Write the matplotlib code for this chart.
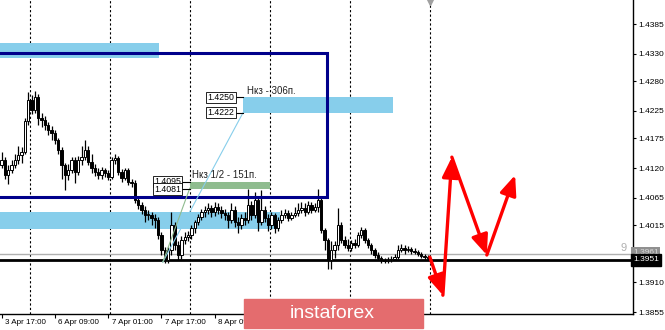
import numpy as np
import matplotlib.pyplot as plt
from matplotlib.patches import Rectangle

plt.rcParams['font.family'] = ['Liberation Sans', 'DejaVu Sans']

# H1 candles, bar 0 = 3 Apr 17:00
closes = [1.4135, 1.4107, 1.4116, 1.4126, 1.4135, 1.4144, 1.4150, 1.4207, 1.4245, 1.4227,
          1.4251, 1.4212, 1.4208, 1.4199, 1.4190, 1.4184, 1.4172, 1.4153, 1.4126, 1.4107,
          1.4116, 1.4135, 1.4113, 1.4135, 1.4140, 1.4153, 1.4131, 1.4120, 1.4113, 1.4107,
          1.4116, 1.4111, 1.4104, 1.4135, 1.4138, 1.4113, 1.4102, 1.4116, 1.4094, 1.4093,
          1.4061, 1.4052, 1.4043, 1.4034, 1.4034, 1.4028, 1.4024, 1.3997, 1.3969, 1.3951,
          1.3969, 1.4015, 1.3978, 1.3960, 1.3988, 1.3993, 1.3997, 1.4010, 1.4021, 1.4030,
          1.4039, 1.4043, 1.4047, 1.4039, 1.4048, 1.4043, 1.4037, 1.4034, 1.4024, 1.4043,
          1.4021, 1.4015, 1.4028, 1.4024, 1.4052, 1.4034, 1.4061, 1.4021, 1.4043, 1.4028,
          1.4015, 1.4034, 1.4010, 1.4024, 1.4034, 1.4037, 1.4028, 1.4034, 1.4037, 1.4043,
          1.4047, 1.4039, 1.4052, 1.4043, 1.4048, 1.4061, 1.4006, 1.3988, 1.3951, 1.3969,
          1.3978, 1.4015, 1.3988, 1.3978, 1.3973, 1.3982, 1.3978, 1.3997, 1.4006, 1.3988,
          1.3978, 1.3969, 1.3960, 1.3954, 1.3951, 1.3949, 1.3951, 1.3953, 1.3956, 1.3969,
          1.3973, 1.3969, 1.3971, 1.3967, 1.3966, 1.3962, 1.3958, 1.3956, 1.3954]
highs = [1.4150, 1.4140, 1.4125, 1.4135, 1.4145, 1.4160, 1.4158, 1.4212, 1.4260, 1.4255,
         1.4262, 1.4256, 1.4222, 1.4215, 1.4205, 1.4198, 1.4190, 1.4175, 1.4158, 1.4130,
         1.4128, 1.4140, 1.4140, 1.4142, 1.4160, 1.4172, 1.4160, 1.4145, 1.4128, 1.4120,
         1.4122, 1.4120, 1.4116, 1.4140, 1.4145, 1.4142, 1.4118, 1.4120, 1.4120, 1.4100,
         1.4098, 1.4068, 1.4058, 1.4050, 1.4042, 1.4040, 1.4035, 1.4030, 1.4002, 1.3975,
         1.3975, 1.4040, 1.4020, 1.3985, 1.3995, 1.4002, 1.4005, 1.4015, 1.4025, 1.4035,
         1.4045, 1.4050, 1.4055, 1.4052, 1.4058, 1.4055, 1.4050, 1.4045, 1.4040, 1.4055,
         1.4050, 1.4030, 1.4035, 1.4040, 1.4082, 1.4060, 1.4075, 1.4068, 1.4080, 1.4050,
         1.4035, 1.4040, 1.4038, 1.4030, 1.4042, 1.4045, 1.4042, 1.4040, 1.4048, 1.4055,
         1.4058, 1.4055, 1.4060, 1.4058, 1.4055, 1.4082, 1.4065, 1.4010, 1.3992, 1.3985,
         1.3985, 1.4047, 1.4020, 1.3995, 1.3990, 1.3988, 1.3990, 1.4002, 1.4012, 1.4010,
         1.3992, 1.3982, 1.3972, 1.3965, 1.3958, 1.3955, 1.3956, 1.3958, 1.3962, 1.3978,
         1.3980, 1.3978, 1.3976, 1.3975, 1.3972, 1.3970, 1.3966, 1.3962, 1.3960]
lows = [1.4120, 1.4100, 1.4090, 1.4110, 1.4120, 1.4128, 1.4130, 1.4145, 1.4200, 1.4220,
        1.4222, 1.4200, 1.4195, 1.4190, 1.4180, 1.4172, 1.4165, 1.4145, 1.4100, 1.4080,
        1.4098, 1.4110, 1.4092, 1.4108, 1.4125, 1.4135, 1.4125, 1.4110, 1.4105, 1.4100,
        1.4100, 1.4104, 1.4098, 1.4100, 1.4128, 1.4108, 1.4095, 1.4098, 1.4088, 1.4085,
        1.4055, 1.4045, 1.4035, 1.4020, 1.4025, 1.4015, 1.4010, 1.3990, 1.3960, 1.3945,
        1.3946, 1.3960, 1.3970, 1.3950, 1.3952, 1.3980, 1.3985, 1.3990, 1.4000, 1.4015,
        1.4025, 1.4030, 1.4035, 1.4030, 1.4032, 1.4035, 1.4028, 1.4025, 1.4010, 1.4018,
        1.4012, 1.4000, 1.4008, 1.4015, 1.4018, 1.4025, 1.4028, 1.4005, 1.4015, 1.4020,
        1.4005, 1.4008, 1.4000, 1.4005, 1.4018, 1.4028, 1.4022, 1.4025, 1.4030, 1.4032,
        1.4038, 1.4032, 1.4035, 1.4038, 1.4040, 1.4040, 1.4000, 1.3970, 1.3935, 1.3935,
        1.3955, 1.3970, 1.3982, 1.3972, 1.3968, 1.3968, 1.3972, 1.3975, 1.3992, 1.3982,
        1.3972, 1.3962, 1.3955, 1.3950, 1.3946, 1.3945, 1.3946, 1.3948, 1.3950, 1.3952,
        1.3965, 1.3962, 1.3965, 1.3962, 1.3962, 1.3958, 1.3954, 1.3952, 1.3950]
first_open = 1.4126

price_ticks = [1.4385, 1.4330, 1.4280, 1.4225, 1.4175, 1.4120, 1.4065, 1.4015, 1.3910, 1.3855]
# labels under the watermark (9 Apr) are left out, they can't be seen
time_labels = ['3 Apr 17:00', '6 Apr 09:00', '7 Apr 01:00', '7 Apr 17:00',
               '8 Apr 09:00', '10 Apr 09:00']
time_label_bars = [0, 16, 32, 48, 64, 112]
grid_bars = [8.5, 32.5, 56.5, 80.5, 104.5, 128.5]

last_price = 1.3951
ask_price = 1.3962

# zones: (bar from, bar to, price low, price high)
blue_zones = [(-1, 47.2, 1.4322, 1.4350),
              (72.5, 117.5, 1.4222, 1.4250),
              (-1, 83.6, 1.4008, 1.4039)]
green_zone = (56.5, 80.5, 1.4081, 1.4095)
frame = (-3, 97.7, 1.4067, 1.4332)

# level tags
tags_1 = ['1.4250', '1.4222']
tags_1_price = [1.4250, 1.4222]
tags_2 = ['1.4095', '1.4081']
tags_2_price = [1.4095, 1.4081]

# fib lines from the low
fib_start = (48.4, 1.3947)
fib_blue_end = (72.5, 1.4222)
fib_green_end = (56.5, 1.4083)

# forecast path
path_bars = [128.6, 132.5, 135.2, 145.7, 154.2]
path_prices = [1.3956, 1.3886, 1.4140, 1.3960, 1.4107]

W, H = 665, 330
y_lo, y_hi = 1.38514, 1.44292
fig = plt.figure(figsize=(W / 100, H / 100), dpi=100)
ax = fig.add_axes([0, 16 / H, 633 / W, 314 / H])
ax.set_xlim(-0.5, 189.6)
ax.set_ylim(y_lo, y_hi)

for g in grid_bars:
    ax.axvline(g, color='black', lw=0.8, ls=(0, (2, 2)), zorder=1)

for x0, x1, p0, p1 in blue_zones:
    ax.add_patch(Rectangle((x0, p0), x1 - x0, p1 - p0, color='#87CEEB', lw=0, zorder=2))
gx0, gx1, gp0, gp1 = green_zone
ax.add_patch(Rectangle((gx0, gp0), gx1 - gx0, gp1 - gp0, color='#8FBC8F', lw=0, zorder=2))

ax.axhline(ask_price, color='#b0b0b0', lw=1, zorder=2)
ax.axhline(last_price, color='black', lw=2, zorder=2)

# candles
c = np.array(closes)
o = np.concatenate([[first_open], c[:-1]])
hi = np.array(highs)
lo = np.array(lows)
idx = np.arange(len(c))
ax.vlines(idx, lo, hi, color='black', lw=0.9, zorder=3)
bull = c >= o
body_lo = np.minimum(o, c)
body_h = np.maximum(np.abs(c - o), 0.00012)
ax.bar(idx[bull], body_h[bull], bottom=body_lo[bull], width=0.7,
       color='white', edgecolor='black', lw=0.7, zorder=4)
ax.bar(idx[~bull], body_h[~bull], bottom=body_lo[~bull], width=0.7,
       color='black', edgecolor='black', lw=0.7, zorder=4)

fx0, fx1, fp0, fp1 = frame
ax.add_patch(Rectangle((fx0, fp0), fx1 - fx0, fp1 - fp0, fill=False,
                       edgecolor='#00008B', lw=2.2, zorder=5))

ax.plot([fib_start[0], fib_blue_end[0]], [fib_start[1], fib_blue_end[1]],
        color='#87CEEB', lw=0.8, zorder=5)
ax.plot([fib_start[0], fib_green_end[0]], [fib_start[1], fib_green_end[1]],
        color='#8FBC8F', lw=0.8, zorder=5)

def tags(names, prices, x_end):
    for t, p in zip(names, prices):
        ax.plot([x_end - 2.6, x_end], [p, p], color='black', lw=0.8, zorder=6)
        ax.text(x_end - 2.6, p, t, ha='right', va='center', fontsize=6.3, zorder=7,
                bbox=dict(boxstyle='square,pad=0.15', fc='white', ec='black', lw=0.6))

tags(tags_1, tags_1_price, fib_blue_end[0])
tags(tags_2, tags_2_price, green_zone[0])
ax.text(73.6, 1.4262, 'Нкз - 306п.', fontsize=7, color='#222222', va='center', zorder=7)
ax.text(57.3, 1.4108, 'Нкз 1/2 - 151п.', fontsize=7, color='#222222', va='center', zorder=7)

for i in range(len(path_bars) - 1):
    ax.annotate('', xy=(path_bars[i + 1], path_prices[i + 1]),
                xytext=(path_bars[i], path_prices[i]),
                arrowprops=dict(arrowstyle='-|>,head_length=1.2,head_width=0.5',
                                color='#ff0000', lw=2.4, shrinkA=0, shrinkB=0,
                                mutation_scale=10), zorder=8)

# chart shift marker
ax.plot([grid_bars[-1]], [1.4425], marker='v', color='#a0a0a0', ms=4, clip_on=False, zorder=6)

ax.text(187.8, 1.3972, '9', color='#b0b0b0', fontsize=8, ha='right', va='center')

# axes
for s in ['left', 'top']:
    ax.spines[s].set_visible(False)
for s in ['right', 'bottom']:
    ax.spines[s].set_color('black')
    ax.spines[s].set_linewidth(1)
ax.yaxis.tick_right()
ax.set_yticks(price_ticks)
ax.set_yticklabels(['%.4f' % p for p in price_ticks])
ax.tick_params(axis='y', length=2.5, width=0.8, labelsize=6, pad=1.5)
ax.set_xticks(time_label_bars)
ax.set_xticklabels([])
ax.tick_params(axis='x', length=3, width=0.8, direction='out')
for b, t in zip(time_label_bars, time_labels):
    ax.text(b + 1, y_lo - 0.0009, t, fontsize=5.8, ha='left', va='top', clip_on=False)

ax.text(1.0, ask_price + 0.0003, '1.3961', transform=ax.get_yaxis_transform(), fontsize=6,
        color='#d8d8d8', va='center', ha='left',
        bbox=dict(boxstyle='square,pad=0.2', fc='#909090', ec='none'))
ax.text(1.0, last_price, '1.3951', transform=ax.get_yaxis_transform(), fontsize=6,
        color='white', va='center', ha='left',
        bbox=dict(boxstyle='square,pad=0.3', fc='black', ec='black'))

# watermark
fig.patches.append(Rectangle((244 / W, 2 / H), 179 / W, 29 / H, transform=fig.transFigure,
                             color='#e46c6e', zorder=20))
fig.text(290 / W, 16 / H, 'instaforex', color='white', fontsize=14,
         va='center', ha='left', zorder=21)

fig.savefig('out.png', dpi=100)
